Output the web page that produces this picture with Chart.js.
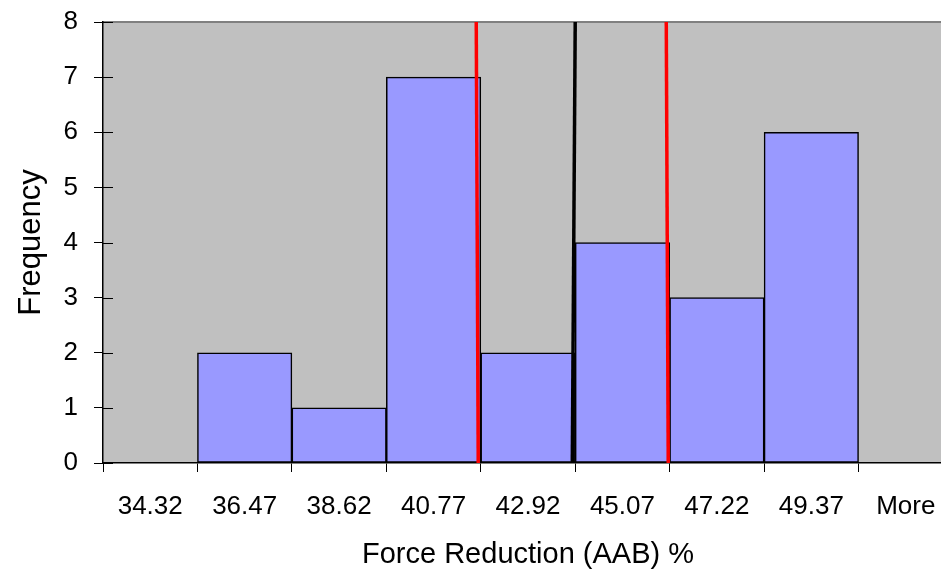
<!DOCTYPE html>
<html>
<head>
<meta charset="utf-8">
<script src="https://cdn.jsdelivr.net/npm/chart.js@4/dist/chart.umd.min.js"></script>
<style>
  html, body { margin: 0; padding: 0; overflow: hidden; background: #fff; }
  #wrap { width: 960px; height: 572px; }
</style>
</head>
<body>
<div id="wrap"><canvas id="chartHist"></canvas></div>
<script>
// === Data ===
const bins = ["34.32", "36.47", "38.62", "40.77", "42.92", "45.07", "47.22", "49.37", "More"];
const frequency = [0, 2, 1, 7, 2, 4, 3, 6, 0];
const yTicks = [0, 1, 2, 3, 4, 5, 6, 7, 8];

// reference lines, x in bin units (0 = left edge of first bin), [top, bottom]
const lowerLimit = [3.952, 3.973];
const meanLine = [5.0, 4.969];
const upperLimit = [5.964, 5.985];

const FONT = "'Liberation Sans', Arial, sans-serif";

function vline(xs) {
    return [{ x: xs[0], y: yTicks[yTicks.length - 1] }, { x: xs[1], y: yTicks[0] }];
}

// gray plot area + Excel style ticks crossing the value axis
const plotBg = {
    id: "plotBg",
    beforeDraw(chart) {
        const { ctx, chartArea: a } = chart;
        ctx.save();
        ctx.fillStyle = "#C0C0C0";
        ctx.fillRect(a.left, a.top, a.right - a.left, a.bottom - a.top);
        ctx.strokeStyle = "#808080";
        ctx.lineWidth = 2;
        ctx.beginPath();
        ctx.moveTo(a.left, a.top);
        ctx.lineTo(a.right, a.top);
        ctx.stroke();
        ctx.restore();
    },
    afterDraw(chart) {
        const { ctx, chartArea: a, scales } = chart;
        ctx.save();
        ctx.strokeStyle = "#000";
        ctx.lineWidth = 1;
        scales.y.ticks.forEach(t => {
            const y = Math.round(scales.y.getPixelForValue(t.value)) + 0.5;
            ctx.beginPath();
            ctx.moveTo(a.left, y);
            ctx.lineTo(a.left + 10, y);
            ctx.stroke();
        });
        ctx.restore();
    }
};

new Chart(document.getElementById("chartHist"), {
    type: "bar",
    data: {
        labels: bins,
        datasets: [
            {
                label: "Frequency",
                data: frequency,
                backgroundColor: "#9999FF",
                borderColor: "#000",
                borderWidth: 1.5,
                borderSkipped: false,
                barPercentage: 1,
                categoryPercentage: 1,
                grouped: false,
                order: 3
            },
            {
                type: "line",
                data: vline(lowerLimit),
                xAxisID: "x2",
                borderColor: "#FF0000",
                borderWidth: 3.5,
                pointRadius: 0,
                order: 1
            },
            {
                type: "line",
                data: vline(meanLine),
                xAxisID: "x2",
                borderColor: "#000",
                borderWidth: 3.5,
                pointRadius: 0,
                order: 1
            },
            {
                type: "line",
                data: vline(upperLimit),
                xAxisID: "x2",
                borderColor: "#FF0000",
                borderWidth: 3.5,
                pointRadius: 0,
                order: 1
            }
        ]
    },
    options: {
        responsive: true,
        maintainAspectRatio: false,
        animation: false,
        layout: { padding: { top: 22, right: 7, left: 0, bottom: 0 } },
        plugins: { legend: { display: false }, tooltip: { enabled: false } },
        scales: {
            x: {
                offset: true,
                afterFit: s => { s.height = 109; },
                grid: { offset: true, drawOnChartArea: false, tickLength: 9, color: "#000" },
                border: { color: "#000", width: 1.5 },
                ticks: { color: "#000", padding: 19, font: { family: FONT, size: 26 } },
                title: {
                    display: true, text: "Force Reduction (AAB) %", color: "#000",
                    padding: { top: 0, bottom: 0 }, font: { family: FONT, size: 29 }
                }
            },
            x2: {
                type: "linear", display: false, offset: false,
                grid: { offset: false },
                min: 0, max: bins.length
            },
            y: {
                min: yTicks[0],
                max: yTicks[yTicks.length - 1],
                afterFit: s => { s.width = 103; s.paddingTop = 0; s.paddingBottom = 0; },
                afterBuildTicks: s => { s.ticks = yTicks.map(v => ({ value: v })); },
                grid: { drawOnChartArea: false, tickLength: 9, color: "#000" },
                border: { color: "#000", width: 1.5 },
                ticks: { color: "#000", padding: 16, font: { family: FONT, size: 26 } },
                title: {
                    display: true, text: "Frequency", color: "#000",
                    padding: { top: 13, bottom: 0 }, font: { family: FONT, size: 31 }
                }
            }
        }
    },
    plugins: [plotBg]
});
</script>
</body>
</html>
